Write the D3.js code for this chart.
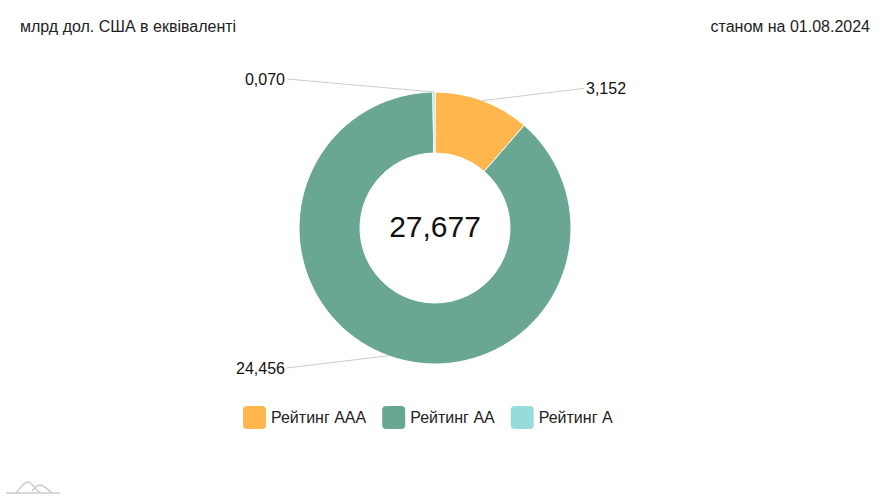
<!DOCTYPE html>
<html><head><meta charset="utf-8">
<script src="https://cdn.jsdelivr.net/npm/d3@7"></script>
<style>body{margin:0;background:#fff}svg{display:block;font-family:"Liberation Sans",Arial,sans-serif}</style>
</head><body>
<svg id="c" width="891" height="500"></svg>
<script>
const categories = ["Рейтинг ААА", "Рейтинг АА", "Рейтинг А"];
const values = [3.152, 24.456, 0.070];
const valueLabels = ["3,152", "24,456", "0,070"];
const totalLabel = "27,677";
const colors = ["#FFB74D", "#69A794", "#96DCDA"];
const unitTitle = "млрд дол. США в еквіваленті";
const dateTitle = "станом на 01.08.2024";

const svg = d3.select("#c");
const W = 891, cx = 435, cy = 228, R = 136, r0 = 75;

svg.append("text").attr("x", 20).attr("y", 32).attr("font-size", 16).attr("fill", "#222").text(unitTitle);
svg.append("text").attr("x", 870).attr("y", 32).attr("text-anchor", "end").attr("font-size", 16).attr("fill", "#222").text(dateTitle);

const pie = d3.pie().sort(null).value(d => d)(values);
const arc = d3.arc().innerRadius(r0).outerRadius(R);
const g = svg.append("g").attr("transform", `translate(${cx},${cy})`);
g.selectAll("path").data(pie).join("path")
  .attr("d", arc).attr("fill", (d, i) => colors[i])
  .attr("stroke", "#fff").attr("stroke-width", 1).attr("stroke-linejoin", "round");

g.append("text").attr("text-anchor", "middle").attr("y", -2).attr("dy", "0.35em")
  .attr("font-size", 30).attr("fill", "#111").text(totalLabel);

pie.forEach((d, i) => {
  const a = (d.startAngle + d.endAngle) / 2;
  const px = R * Math.sin(a), py = -R * Math.cos(a);
  const right = Math.sin(a) > 0;
  const ly = -(R + 13) * Math.cos(a);
  const lx = right ? 150 : -150;
  g.append("line").attr("x1", px).attr("y1", py)
    .attr("x2", right ? lx - 1 : lx + 2).attr("y2", ly)
    .attr("stroke", "#ccc").attr("stroke-width", 1);
  g.append("text").attr("x", right ? lx + 1 : lx).attr("y", ly).attr("dy", "0.35em")
    .attr("text-anchor", right ? "start" : "end").attr("font-size", 16).attr("fill", "#111")
    .text(valueLabels[i]);
});

// legend
const leg = svg.append("g");
let x = 243;
categories.forEach((c, i) => {
  const it = leg.append("g").attr("transform", `translate(${x},406)`);
  it.append("rect").attr("width", 23).attr("height", 23).attr("rx", 4).attr("fill", colors[i]);
  const t = it.append("text").attr("x", 28).attr("y", 11.5).attr("dy", "0.35em")
    .attr("font-size", 16).attr("fill", "#222").text(c);
  x += 28 + t.node().getComputedTextLength() + 16;
});

// logo
const logo = svg.append("g").attr("stroke", "#ccc").attr("fill", "none").attr("stroke-width", 1.5);
logo.append("line").attr("x1", 6).attr("x2", 60).attr("y1", 493).attr("y2", 493);
logo.append("path").attr("d", "M16,493 C22,486 24,482 28,482 C33,482 36,493 42,493");
logo.append("path").attr("d", "M32,491 C35,487 37,485 40,485 C44,485 47,489 52,493");
</script>
</body></html>
